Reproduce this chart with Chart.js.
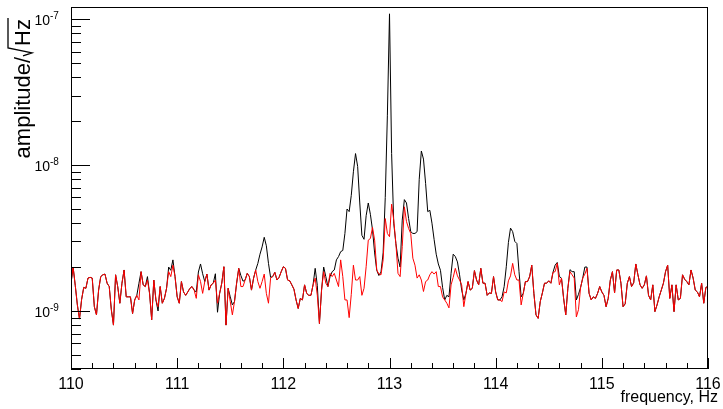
<!DOCTYPE html>
<html>
<head>
<meta charset="utf-8">
<script src="https://cdn.jsdelivr.net/npm/chart.js@4.4.1/dist/chart.umd.min.js"></script>
<style>
  html, body { margin: 0; padding: 0; background: #fff; }
</style>
</head>
<body>
<canvas id="spectrum" width="723" height="409"></canvas>
<script>
// frequency grid (Hz): first bin and bin width
const freqStart = 110;
const freqStep = 0.02;

// amplitude spectra, in units of 1e-9 /sqrt(Hz), one value per bin
const blackAmp = [
  1.55, 2.0, 1.5, 1.1, 0.88, 1.2, 1.45, 1.43, 1.68, 1.70,
  1.68, 1.07, 0.94, 1.39, 1.72, 1.77, 1.79, 1.55, 1.47, 1.02,
  0.80, 1.77, 1.47, 1.13, 1.55, 1.91, 1.25, 1.25, 1.25, 0.96,
  1.19, 1.28, 1.55, 1.86, 1.51, 1.47, 1.72, 1.32, 0.87, 1.63,
  1.19, 1.00, 1.47, 1.13, 1.22, 1.43, 2.0, 1.9, 2.24, 1.72,
  1.25, 1.13, 1.59, 1.35, 1.28, 1.35, 1.43, 1.47, 1.39, 1.35,
  1.85, 2.1, 1.8, 1.59, 1.79, 1.39, 1.51, 1.55, 1.8, 0.98,
  1.32, 1.55, 2.01, 0.80, 1.43, 1.25, 1.1, 1.16, 1.55, 1.96,
  1.75, 1.6, 1.63, 1.81, 1.72, 1.39, 1.68, 1.91, 2.12, 2.45,
  2.75, 3.2, 2.8, 2.12, 1.7, 1.72, 1.84, 1.63, 1.70, 1.86,
  2.01, 1.96, 1.63, 1.61, 1.51, 1.41, 1.19, 1.04, 1.22, 1.19,
  1.51, 1.32, 1.28, 1.28, 1.51, 1.96, 1.5, 0.82, 1.39, 2.0,
  1.72, 1.47, 1.72, 1.86, 1.91, 2.24, 2.36, 2.55, 2.6, 3.4,
  5.0, 4.8, 6.2, 9.0, 12.0, 9.8, 5.5, 3.3, 3.1, 4.5,
  5.5, 4.6, 3.6, 2.5, 1.9, 1.75, 1.85, 2.5, 6.0, 22,
  109, 12, 4.0, 2.9, 2.3, 2.0, 4.2, 5.8, 5.5, 4.3,
  3.5, 3.4, 3.4, 3.5, 8.0, 12.5, 11.0, 7.5, 4.8, 4.9,
  4.0, 3.1, 2.45, 2.1, 1.9, 1.45, 1.19, 1.28, 1.25, 1.81,
  2.45, 2.36, 2.17, 1.77, 1.39, 1.19, 1.32, 1.59, 1.39, 1.43,
  1.89, 1.63, 1.51, 1.96, 1.55, 1.55, 1.28, 1.33, 1.32, 1.72,
  1.35, 1.19, 1.19, 1.25, 1.47, 2.01, 2.95, 3.7, 3.5, 3.0,
  2.9, 1.86, 1.25, 1.32, 1.59, 1.59, 1.72, 2.06, 1.32, 0.94,
  0.89, 1.16, 1.33, 1.55, 1.55, 1.61, 1.55, 1.84, 2.06, 2.15,
  1.72, 1.68, 1.22, 0.94, 1.43, 1.92, 1.86, 1.86, 1.19, 1.3,
  1.45, 1.68, 2.0, 2.0, 1.32, 1.19, 1.25, 1.22, 1.32, 1.47,
  1.35, 1.28, 1.07, 1.22, 1.63, 1.86, 1.33, 1.91, 1.91, 1.55,
  1.07, 1.12, 1.55, 1.72, 1.47, 1.56, 2.10, 1.77, 1.51, 1.43,
  1.51, 1.74, 1.28, 1.19, 1.51, 0.99, 1.10, 1.25, 1.39, 1.55,
  1.86, 2.06, 1.22, 1.51, 0.99, 1.51, 1.19, 1.22, 1.77, 1.65,
  1.59, 1.51, 1.91, 1.68, 1.39, 1.35, 1.25, 1.55, 1.13, 1.45, 1.47
];

const redAmp = [
  1.55, 2.0, 1.5, 1.1, 0.88, 1.2, 1.45, 1.43, 1.68, 1.70,
  1.68, 1.07, 0.94, 1.39, 1.72, 1.77, 1.79, 1.55, 1.47, 1.02,
  0.80, 1.77, 1.47, 1.13, 1.55, 1.91, 1.25, 1.25, 1.25, 0.96,
  1.19, 1.28, 1.19, 1.86, 1.51, 1.47, 1.63, 1.32, 0.87, 1.63,
  1.19, 1.07, 1.47, 1.13, 1.22, 1.43, 1.86, 1.72, 2.06, 1.72,
  1.25, 1.13, 1.59, 1.35, 1.28, 1.35, 1.43, 1.47, 1.39, 1.22,
  1.77, 1.59, 1.32, 1.59, 1.79, 1.39, 1.51, 1.55, 1.63, 1.13,
  1.32, 1.55, 2.01, 0.80, 1.43, 1.16, 0.94, 1.16, 1.55, 1.96,
  1.47, 1.47, 1.63, 1.81, 1.72, 1.39, 1.68, 1.91, 1.59, 1.43,
  1.59, 1.79, 1.32, 1.13, 1.68, 1.72, 1.84, 1.63, 1.70, 1.86,
  2.01, 1.96, 1.63, 1.61, 1.51, 1.41, 1.19, 1.04, 1.22, 1.19,
  1.51, 1.32, 1.28, 1.28, 1.51, 1.68, 1.28, 0.82, 1.39, 1.86,
  1.55, 1.47, 1.81, 1.72, 1.81, 1.63, 1.47, 2.24, 1.72, 1.19,
  1.19, 0.90, 1.30, 2.06, 1.63, 1.63, 1.72, 1.28, 1.43, 2.01,
  3.06, 3.14, 3.74, 3.06, 1.91, 1.79, 1.77, 2.24, 4.3, 3.4,
  3.23, 5.4, 4.2, 2.91, 1.81, 1.72, 2.76, 5.18, 4.1, 3.68,
  3.4, 2.3, 2.06, 1.68, 1.77, 1.63, 1.36, 1.59, 1.63, 1.77,
  1.86, 1.79, 1.86, 1.47, 1.47, 1.25, 1.19, 1.13, 1.05, 1.51,
  1.70, 1.96, 1.74, 1.63, 1.51, 1.07, 1.32, 1.59, 1.39, 1.43,
  1.89, 1.63, 1.51, 1.96, 1.55, 1.55, 1.28, 1.33, 1.32, 1.72,
  1.35, 1.19, 1.19, 1.16, 1.35, 1.33, 1.61, 1.74, 2.12, 1.77,
  1.63, 1.63, 1.10, 1.32, 1.59, 1.59, 1.72, 2.06, 1.32, 0.94,
  0.89, 1.16, 1.33, 1.55, 1.55, 1.61, 1.55, 1.84, 1.86, 2.12,
  1.51, 1.68, 1.22, 0.94, 1.43, 1.86, 1.77, 1.68, 0.91, 1.02,
  1.45, 1.68, 1.79, 1.96, 1.32, 1.19, 1.25, 1.22, 1.32, 1.47,
  1.35, 1.28, 1.07, 1.22, 1.63, 1.86, 1.33, 1.91, 1.91, 1.55,
  1.07, 1.12, 1.55, 1.72, 1.47, 1.56, 2.10, 1.77, 1.51, 1.43,
  1.51, 1.74, 1.28, 1.19, 1.51, 0.99, 1.10, 1.25, 1.39, 1.55,
  1.86, 2.06, 1.22, 1.51, 0.99, 1.51, 1.19, 1.22, 1.77, 1.65,
  1.59, 1.51, 1.91, 1.68, 1.39, 1.35, 1.25, 1.55, 1.13, 1.45, 1.47
];

// axis labels
const xTickLabels = ['110', '111', '112', '113', '114', '115', '116'];
const yDecades = [1, 10, 100];          // 1e-9, 1e-8, 1e-7
const yDecadeLabels = ['-9', '-8', '-7'];
const xTitle = 'frequency, Hz';
const yTitleMain = 'amplitude/';
const yTitleRoot = 'Hz';

const FONT = '"Liberation Sans", Arial, Helvetica, sans-serif';

function toPoints(arr) {
  return arr.map((v, i) => ({ x: freqStart + i * freqStep, y: v }));
}

// ROOT-style frame: box, inward ticks, labels, titles
const rootAxes = {
  id: 'rootAxes',
  afterDraw(chart) {
    const ctx = chart.ctx, a = chart.chartArea;
    const xs = chart.scales.x, ys = chart.scales.y;
    ctx.save();
    ctx.strokeStyle = '#000';
    ctx.fillStyle = '#000';
    ctx.lineWidth = 1;
    ctx.strokeRect(a.left + 0.5, a.top + 0.5, a.right - a.left - 1, a.bottom - a.top - 1);

    // x ticks: major every 1 Hz, minor every 0.2 Hz
    ctx.beginPath();
    for (let i = 0; i <= 30; i++) {
      const px = Math.round(xs.getPixelForValue(110 + i * 0.2)) + 0.5;
      const len = i % 5 === 0 ? 11 : 6;
      ctx.moveTo(px, a.bottom);
      ctx.lineTo(px, a.bottom - len);
    }
    // y ticks: decades long, 2..9 short
    [0.1, 1, 10, 100].forEach(d => {
      for (let m = 1; m <= 9; m++) {
        const v = m * d;
        if (v < ys.min || v > ys.max) continue;
        const py = Math.round(ys.getPixelForValue(v)) + 0.5;
        ctx.moveTo(a.left, py);
        ctx.lineTo(a.left + (m === 1 ? 19 : 10), py);
      }
    });
    ctx.stroke();

    // x tick labels
    ctx.font = '16px ' + FONT;
    ctx.textAlign = 'center';
    ctx.textBaseline = 'alphabetic';
    xTickLabels.forEach(t => {
      ctx.fillText(t, xs.getPixelForValue(Number(t)), 389);
    });

    // y tick labels 10^n
    yDecades.forEach((d, i) => {
      const py = ys.getPixelForValue(d);
      ctx.font = '14px ' + FONT;
      ctx.textAlign = 'right';
      ctx.textBaseline = 'alphabetic';
      ctx.fillText('10', 50, py + 6);
      ctx.font = '10px ' + FONT;
      ctx.textAlign = 'left';
      ctx.fillText(yDecadeLabels[i], 50, py);
    });

    // x title
    ctx.font = '16px ' + FONT;
    ctx.textAlign = 'right';
    ctx.fillText(xTitle, 718, 402);

    // y title, rotated, with a drawn radical over Hz
    const s = 22;
    ctx.font = s + 'px ' + FONT;
    ctx.textAlign = 'left';
    const w1 = ctx.measureText(yTitleMain).width;
    const wHz = ctx.measureText(yTitleRoot).width;
    const rx = w1 + 1, hzX = rx + 10;
    const total = hzX + wHz + 1;
    ctx.translate(30, 18 + total);
    ctx.rotate(-Math.PI / 2);
    ctx.fillText(yTitleMain, 0, 0);
    ctx.fillText(yTitleRoot, hzX, 0);
    ctx.beginPath();
    ctx.moveTo(rx, -7);
    ctx.lineTo(rx + 3, 2);
    ctx.lineTo(rx + 8, -s);
    ctx.lineTo(total, -s);
    ctx.lineWidth = 1.3;
    ctx.stroke();
    ctx.restore();
  }
};

new Chart(document.getElementById('spectrum'), {
  type: 'line',
  data: {
    datasets: [
      { label: 'red', data: toPoints(redAmp), borderColor: '#ff0000', borderWidth: 1, pointRadius: 0, tension: 0, order: 0 },
      { label: 'black', data: toPoints(blackAmp), borderColor: '#000000', borderWidth: 1, pointRadius: 0, tension: 0, order: 1 }
    ]
  },
  options: {
    responsive: false,
    animation: false,
    layout: { padding: { left: 71, right: 15, top: 7, bottom: 40 } },
    plugins: { legend: { display: false }, tooltip: { enabled: false } },
    scales: {
      x: { type: 'linear', min: 110, max: 116, display: false },
      y: { type: 'logarithmic', min: 0.4, max: 121.4, display: false }
    }
  },
  plugins: [rootAxes]
});
</script>
</body>
</html>
